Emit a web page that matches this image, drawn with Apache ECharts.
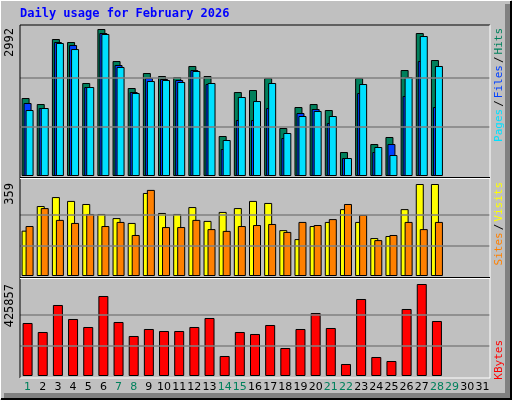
<!DOCTYPE html><html><head><meta charset="utf-8">
<script src="https://cdn.jsdelivr.net/npm/echarts@6/dist/echarts.min.js"></script>
<style>html,body{margin:0;padding:0;background:#c0c0c0}#c{width:512px;height:400px}</style></head><body><div id="c"></div><script>
const days = Array.from({length:31},(_,i)=>String(i+1));
const weekendDays = [1,7,8,14,15,21,22,28,29];
const hits = [1587,1465,2788,2727,1893,2992,2340,1791,2096,2035,2015,2239,2035,814,1709,1750,1994,977,1404,1465,1343,488,1994,651,794,2157,2910,2361];
const files = [1486,1384,2727,2666,1811,2910,2259,1709,1994,1974,1954,2157,1872,549,1140,1140,1384,773,1282,1363,1079,366,1689,488,651,1628,2340,1404];
const pages = [1343,1384,2707,2584,1811,2890,2218,1689,1933,1954,1913,2137,1893,733,1608,1526,1893,875,1221,1323,1221,366,1872,590,427,2015,2849,2239];
const visits = [177,273,308,293,281,242,226,207,324,246,242,269,215,250,265,293,285,179,144,195,211,261,211,148,156,261,359,359];
const sites = [195,265,219,207,242,195,211,160,336,191,191,219,183,176,195,199,203,172,211,199,222,281,238,140,160,211,183,211];
const kbytes = [245337,203676,328659,263853,226821,370320,249966,185160,217563,208305,208305,226821,268482,92580,203676,194418,236079,129612,217563,291627,222192,55548,356433,87951,69435,310143,425857,254595];
const maxHits=2992, maxVisits=359, maxKB=425857;

const ch = echarts.init(document.getElementById('c'));
const grids=[{left:20,right:22,top:25,height:151},{left:20,right:22,top:179,height:97},{left:20,right:22,top:279,height:97}];
function xa(i,show){return {type:'category',data:days,gridIndex:i,boundaryGap:true,
 axisLine:{show:false},axisTick:{show:false},
 axisLabel:{show:show,interval:0,margin:6,fontFamily:'DejaVu Sans',fontSize:11,
  color:(v)=>weekendDays.includes(+v)?'#00805c':'#000'}};}
function ya(i,max){return {type:'value',gridIndex:i,min:0,max:max,axisLine:{show:false},axisTick:{show:false},axisLabel:{show:false},splitLine:{show:false}};}
function grid(m){return {silent:true,symbol:'none',label:{show:false},lineStyle:{color:'#808080',type:'solid',width:1.5},data:[{yAxis:m/3},{yAxis:2*m/3}]};}
const bs={borderColor:'#000',borderWidth:1};
ch.setOption({
 animation:false,backgroundColor:'#c0c0c0',
 grid:grids,
 xAxis:[xa(0,false),xa(1,false),xa(2,true)],
 yAxis:[ya(0,maxHits*151/147),ya(1,maxVisits*97/92),ya(2,maxKB*97/92)],
 series:[
  {type:'bar',xAxisIndex:0,yAxisIndex:0,data:hits,barWidth:8,barGap:'-75%',itemStyle:{color:'#00805c',...bs},markLine:grid(maxHits),z:2},
  {type:'bar',xAxisIndex:0,yAxisIndex:0,data:files,barWidth:8,barGap:'-75%',itemStyle:{color:'#0040ff',...bs},z:3},
  {type:'bar',xAxisIndex:0,yAxisIndex:0,data:pages,barWidth:8,barGap:'-75%',itemStyle:{color:'#00e0ff',...bs},z:4},
  {type:'bar',xAxisIndex:1,yAxisIndex:1,data:visits,barWidth:8,barGap:'-50%',itemStyle:{color:'#ffff00',...bs},markLine:grid(maxVisits),z:2},
  {type:'bar',xAxisIndex:1,yAxisIndex:1,data:sites,barWidth:8,barGap:'-50%',itemStyle:{color:'#ff8000',...bs},z:3},
  {type:'bar',xAxisIndex:2,yAxisIndex:2,data:kbytes,barWidth:10,itemStyle:{color:'#ff0000',...bs},markLine:grid(maxKB),z:2}
 ],
 graphic:[
  {type:'polyline',shape:{points:[[0,399],[0,0],[511,0]]},style:{stroke:'#fff',lineWidth:2,fill:null},z:0},
  {type:'polyline',shape:{points:[[1,399],[511,399],[511,1]]},style:{stroke:'#000',lineWidth:2,fill:null},z:0},
  {type:'rect',shape:{x:505,y:4,width:5,height:394},style:{fill:'#808080'},z:0},
  {type:'rect',shape:{x:4,y:393,width:506,height:5},style:{fill:'#808080'},z:0},
  {type:'polyline',shape:{points:[[20,378],[20,25],[490,25]]},style:{stroke:'#000',lineWidth:1,fill:null},z:10},
  {type:'polyline',shape:{points:[[20,378],[490,378],[490,25]]},style:{stroke:'#fff',lineWidth:1,fill:null},z:10},
  {type:'line',shape:{x1:20,y1:177.5,x2:490,y2:177.5},style:{stroke:'#000',lineWidth:1},z:10},
  {type:'line',shape:{x1:20,y1:178.5,x2:490,y2:178.5},style:{stroke:'#fff',lineWidth:1},z:10},
  {type:'line',shape:{x1:20,y1:277.5,x2:490,y2:277.5},style:{stroke:'#000',lineWidth:1},z:10},
  {type:'line',shape:{x1:20,y1:278.5,x2:490,y2:278.5},style:{stroke:'#fff',lineWidth:1},z:10},
  {type:'text',left:20,top:8,style:{text:'Daily usage for February 2026',font:'bold 12px "DejaVu Sans Mono"',fill:'#0000ff'}},
  {type:'text',x:10,y:28,rotation:Math.PI/2,style:{text:'2992',font:'12px "DejaVu Sans Mono"',fill:'#000',align:'right',verticalAlign:'middle'}},
  {type:'text',x:10,y:183,rotation:Math.PI/2,style:{text:'359',font:'12px "DejaVu Sans Mono"',fill:'#000',align:'right',verticalAlign:'middle'}},
  {type:'text',x:10,y:284,rotation:Math.PI/2,style:{text:'425857',font:'12px "DejaVu Sans Mono"',fill:'#000',align:'right',verticalAlign:'middle'}},
  {type:'text',x:499,y:28,rotation:Math.PI/2,style:{text:'{a|Pages}{k|/}{b|Files}{k|/}{c|Hits}',align:'right',verticalAlign:'middle',
   rich:{a:{fill:'#00e0ff',font:'11px "DejaVu Sans Mono"'},b:{fill:'#0040ff',font:'11px "DejaVu Sans Mono"'},c:{fill:'#00805c',font:'11px "DejaVu Sans Mono"'},k:{fill:'#000',font:'11px "DejaVu Sans Mono"',padding:[0,2]}}}},
  {type:'text',x:499,y:182,rotation:Math.PI/2,style:{text:'{a|Sites}{k|/}{b|Visits}',align:'right',verticalAlign:'middle',
   rich:{a:{fill:'#ff8000',font:'11px "DejaVu Sans Mono"'},b:{fill:'#ffff00',font:'11px "DejaVu Sans Mono"'},k:{fill:'#000',font:'11px "DejaVu Sans Mono"',padding:[0,2]}}}},
  {type:'text',x:499,y:340,rotation:Math.PI/2,style:{text:'KBytes',align:'right',verticalAlign:'middle',font:'11px "DejaVu Sans Mono"',fill:'#ff0000'}}
 ]
});
</script></body></html>
